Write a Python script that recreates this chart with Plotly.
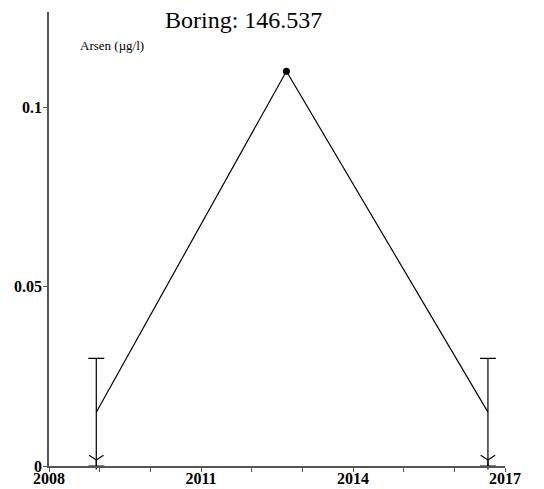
import plotly.graph_objects as go

# Data
dates = ["2008-12-07", "2012-09-08", "2016-08-31"]
values = [0.015, 0.11, 0.015]
detection_limit = [0.03, None, 0.03]  # "< DL" samples plotted at DL/2
title_text = "Boring: 146.537"
y_label = "Arsen (µg/l)"
y_ticks = [0, 0.05, 0.1]
y_ticktext = ["0", "0.05", "0.1"]

dl_x = [d for d, l in zip(dates, detection_limit) if l is not None]
dl_v = [v for v, l in zip(values, detection_limit) if l is not None]
dl_l = [l for l in detection_limit if l is not None]

fig = go.Figure()
fig.add_trace(go.Scatter(
    x=dates, y=values, mode="lines",
    line=dict(color="black", width=1.2), showlegend=False, hoverinfo="skip"))
meas_x = [d for d, l in zip(dates, detection_limit) if l is None]
meas_v = [v for v, l in zip(values, detection_limit) if l is None]
fig.add_trace(go.Scatter(
    x=meas_x, y=meas_v, mode="markers",
    marker=dict(color="black", size=7), showlegend=False, cliponaxis=False))
fig.add_trace(go.Scatter(
    x=dl_x, y=dl_v, mode="markers",
    marker=dict(color="rgba(0,0,0,0)", size=1),
    error_y=dict(type="data", symmetric=False,
                 array=[l - v for l, v in zip(dl_l, dl_v)],
                 arrayminus=dl_v, color="black", thickness=1.2, width=8),
    showlegend=False, cliponaxis=False))
# downward arrowheads marking "below detection limit"
fig.add_trace(go.Scatter(
    x=dl_x, y=[0] * len(dl_x), mode="markers",
    marker=dict(symbol="y-up-open", size=12, color="black",
                angle=180, standoff=6,
                line=dict(color="black", width=1.2)),
    showlegend=False, cliponaxis=False))

axis_font = dict(family="Liberation Serif", size=16, color="black")
fig.update_layout(
    width=536, height=481,
    margin=dict(l=41, r=39, t=4, b=23),
    paper_bgcolor="white", plot_bgcolor="white",
    xaxis=dict(type="date", range=["2008-01-01", "2017-01-01"],
               tick0="2008-01-01", dtick="M36", tickformat="<b>%Y</b>",
               ticks="outside", ticklen=4, tickcolor="#555",
               ticklabelstandoff=-7,
               minor=dict(dtick="M12", ticks="outside", ticklen=4, tickcolor="#555"),
               showgrid=False, zeroline=False, showline=True, automargin=False,
               linecolor="#555", linewidth=1.5, tickfont=axis_font,
               fixedrange=True),
    yaxis=dict(range=[0, 0.1265], tickvals=y_ticks,
               ticktext=["<b>" + t + "</b>" for t in y_ticktext],
               ticks="outside", ticklen=4, tickcolor="#555", automargin=False,
               ticklabelstandoff=-2,
               showgrid=False, zeroline=False, showline=True,
               linecolor="#555", linewidth=1.5, tickfont=axis_font),
    annotations=[
        dict(text=title_text, xref="paper", yref="paper", x=0.4276, y=0.982,
             xanchor="center", yanchor="middle", showarrow=False,
             font=dict(family="Liberation Serif", size=24, color="black")),
        dict(text=y_label, xref="paper", yref="paper", x=0.0636, y=0.927,
             xanchor="left", yanchor="middle", showarrow=False,
             font=dict(family="Liberation Serif", size=13, color="black")),
    ],
)
fig.write_html("out.html")
